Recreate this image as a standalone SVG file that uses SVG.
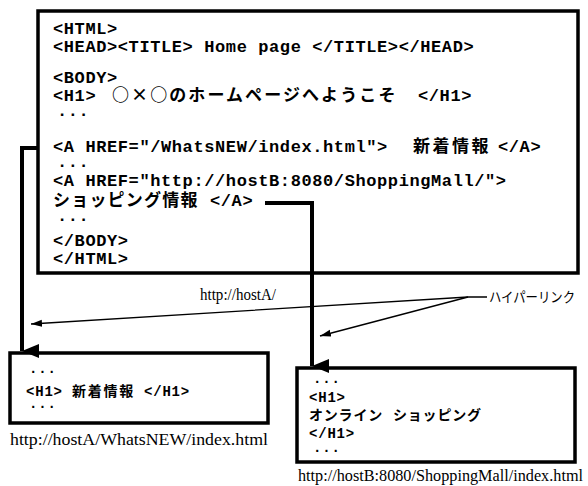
<svg xmlns="http://www.w3.org/2000/svg" width="588" height="486" viewBox="0 0 588 486">
<defs>
<style>
.box{fill:#fff;stroke:#000;stroke-width:3.5}
.code{font-family:"Liberation Mono","Noto Sans CJK JP",monospace;font-weight:bold;font-size:17px;letter-spacing:0.6px;fill:#000}
.small{font-family:"Liberation Mono","Noto Sans CJK JP",monospace;font-weight:bold;font-size:14px;letter-spacing:0.8px;fill:#000}
.cjk{font-family:"Noto Sans CJK JP",sans-serif}
.url{font-family:"Liberation Serif","Noto Sans CJK JP",serif;font-size:16.5px;fill:#000}
.jp{font-family:"Noto Sans CJK JP",sans-serif;font-size:14px;fill:#000}
.thick{fill:none;stroke:#000;stroke-width:4}
.thin{fill:none;stroke:#000;stroke-width:1.3}
</style>
<marker id="bigArrow" markerUnits="userSpaceOnUse" markerWidth="16" markerHeight="18" refX="8" refY="17" orient="auto-start-reverse" viewBox="0 0 16 18">
<path d="M1,0 L15,0 L8,17 Z" fill="#000"/>
</marker>
<marker id="smallArrow" markerUnits="userSpaceOnUse" markerWidth="12" markerHeight="8" refX="11" refY="4" orient="auto" viewBox="0 0 12 8">
<path d="M0,0.5 L11,4 L0,7.5 Z" fill="#000"/>
</marker>
</defs>
<rect width="588" height="486" fill="#fff"/>

<g id="main-page">
<rect class="box" x="38" y="11" width="540" height="262"/>
<text class="code" x="53" y="34">&lt;HTML&gt;</text>
<text class="code" x="53" y="52">&lt;HEAD&gt;&lt;TITLE&gt; Home page &lt;/TITLE&gt;&lt;/HEAD&gt;</text>
<text class="code" x="53" y="83">&lt;BODY&gt;</text>
<text class="code" x="53" y="101">&lt;H1&gt; <tspan class="cjk" x="112" textLength="284" lengthAdjust="spacing">○×○のホームページへようこそ</tspan> <tspan x="418">&lt;/H1&gt;</tspan></text>
<text class="code" x="57" y="116">...</text>
<text class="code" x="53" y="152">&lt;A HREF="/WhatsNEW/index.html"&gt; <tspan class="cjk" x="413" textLength="76" lengthAdjust="spacing">新着情報</tspan> <tspan x="498">&lt;/A&gt;</tspan></text>
<text class="code" x="57" y="167">...</text>
<text class="code" x="53" y="186">&lt;A HREF="http://hostB:8080/ShoppingMall/"&gt;</text>
<text class="code" x="53" y="206"><tspan class="cjk" textLength="145" lengthAdjust="spacing">ショッピング情報</tspan> <tspan x="210">&lt;/A&gt;</tspan></text>
<text class="code" x="57" y="221">...</text>
<text class="code" x="53" y="246">&lt;/BODY&gt;</text>
<text class="code" x="53" y="264">&lt;/HTML&gt;</text>
</g>

<g id="whatsnew-page">
<rect class="box" x="10" y="353" width="258" height="70"/>
<text class="small" x="29" y="373">...</text>
<text class="small" x="26" y="396">&lt;H1&gt; <tspan class="cjk" x="72" textLength="62" lengthAdjust="spacing">新着情報</tspan> <tspan x="144">&lt;/H1&gt;</tspan></text>
<text class="small" x="29" y="408">...</text>
<text class="url" x="10" y="445" textLength="258" lengthAdjust="spacingAndGlyphs">http://hostA/WhatsNEW/index.html</text>
</g>

<g id="shopping-page">
<rect class="box" x="297" y="368" width="278" height="94"/>
<text class="small" x="313" y="383">...</text>
<text class="small" x="309" y="402">&lt;H1&gt;</text>
<text class="small" x="309" y="420"><tspan class="cjk">オンライン</tspan> <tspan class="cjk" x="393">ショッピング</tspan></text>
<text class="small" x="309" y="438">&lt;/H1&gt;</text>
<text class="small" x="313" y="452">...</text>
<text class="url" x="298" y="481" textLength="285" lengthAdjust="spacingAndGlyphs">http://hostB:8080/ShoppingMall/index.html</text>
</g>

<g id="labels">
<text class="url" x="200" y="300" textLength="76" lengthAdjust="spacingAndGlyphs">http://hostA/</text>
<text class="jp" x="489" y="302" textLength="86" lengthAdjust="spacingAndGlyphs">ハイパーリンク</text>
</g>

<g id="connectors">
<path class="thick" d="M38,148 L22,148 L22,351" marker-end="url(#bigArrow)"/>
<path class="thick" d="M265,203 L312,203 L312,366" marker-end="url(#bigArrow)"/>
<path class="thin" d="M487,297 L468,297 L31,324" marker-end="url(#smallArrow)"/>
<path class="thin" d="M468,297 L320,336" marker-end="url(#smallArrow)"/>
</g>
</svg>
